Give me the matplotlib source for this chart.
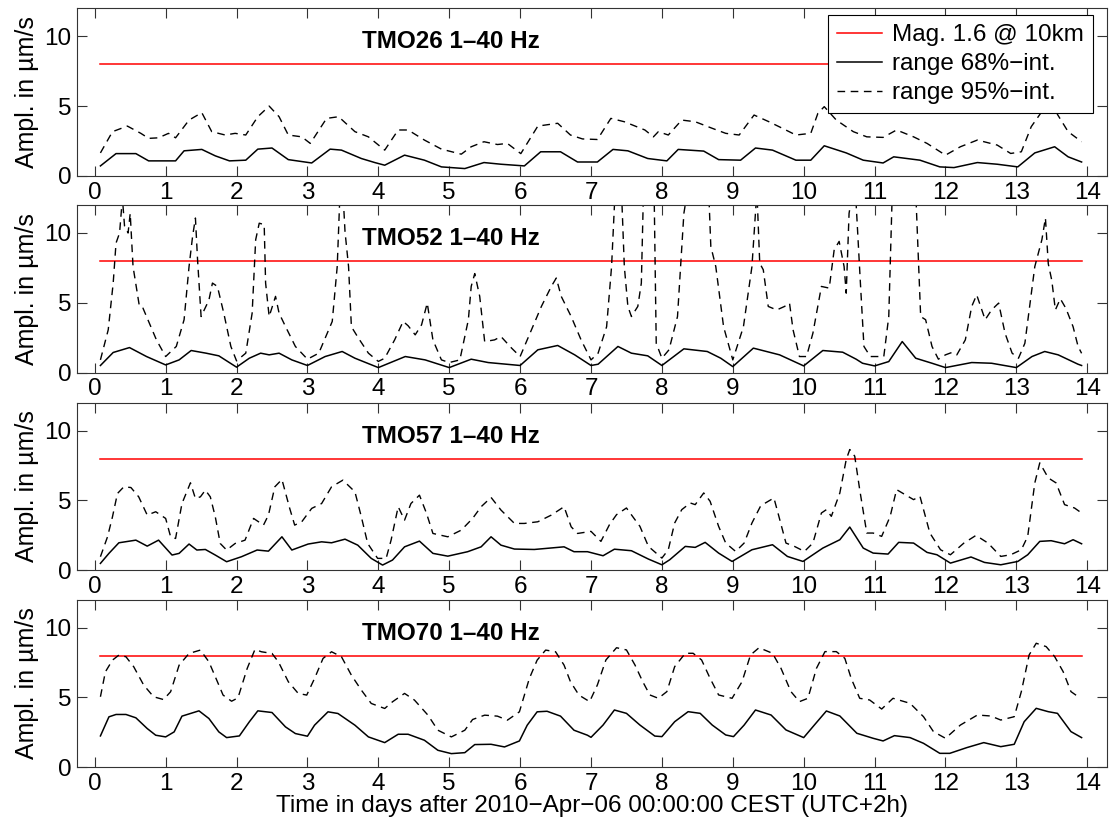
"""Amplitude ranges per station, 14 days after 2010-Apr-06.

Four stacked panels (TMO26, TMO52, TMO57, TMO70), each with the 68% and 95%
interval range and the reference level of a Mag. 1.6 event at 10 km.

    python plot.py
"""
import matplotlib

matplotlib.use("Agg")
import matplotlib.pyplot as plt  # noqa: E402
import numpy as np  # noqa: E402

FONT = ["Liberation Sans", "DejaVu Sans"]
FS = 17.5
plt.rcParams.update({"font.family": FONT, "font.size": FS,
                     "xtick.direction": "in", "ytick.direction": "in",
                     "xtick.major.size": 7, "ytick.major.size": 7,
                     "axes.linewidth": 0.8, "axes.edgecolor": "#333333"})

STATIONS = ["TMO26", "TMO52", "TMO57", "TMO70"]
BAND = "1\u201340 Hz"
MAG_LEVEL = 8.0
XLABEL = "Time in days after 2010\u2212Apr\u221206 00:00:00 CEST (UTC+2h)"
YLABEL = "Ampl. in \u00b5m/s"
LEGEND = ["Mag. 1.6 @ 10km", "range 68%\u2212int.", "range 95%\u2212int."]

# (day, amplitude)
tmo26_68 = [(0.08, 0.72), (0.3, 1.6), (0.58, 1.6), (0.76, 1.08), (0.95, 1.08), (1.14, 1.08),
            (1.26, 1.8), (1.51, 1.9), (1.7, 1.44), (1.9, 1.08), (2.13, 1.13), (2.3, 1.92),
            (2.5, 2.0), (2.73, 1.17), (3.06, 0.93), (3.32, 1.92), (3.48, 1.85), (3.76, 1.25),
            (3.95, 0.96), (4.09, 0.77), (4.37, 1.49), (4.65, 1.13), (4.89, 0.65), (5.22, 0.53),
            (5.49, 0.96), (5.73, 0.84), (6.06, 0.72), (6.29, 1.73), (6.57, 1.73), (6.81, 1.0),
            (7.09, 1.0), (7.31, 1.9), (7.52, 1.8), (7.8, 1.25), (8.07, 1.08), (8.23, 1.9),
            (8.59, 1.78), (8.8, 1.17), (9.11, 1.13), (9.32, 2.0), (9.56, 1.85), (9.89, 1.13),
            (10.1, 1.13), (10.29, 2.16), (10.6, 1.65), (10.84, 1.13), (11.12, 0.93), (11.27, 1.37),
            (11.64, 1.13), (11.92, 0.65), (12.12, 0.6), (12.45, 0.96), (12.73, 0.84), (13.02, 0.65),
            (13.26, 1.65), (13.54, 2.09), (13.73, 1.37), (13.92, 1.0)]
tmo26_95 = [(0.08, 1.65), (0.25, 3.17), (0.46, 3.57), (0.65, 3.05), (0.76, 2.69), (0.9, 2.73),
            (1.04, 3.05), (1.14, 2.73), (1.33, 4.0), (1.51, 4.53), (1.65, 3.17), (1.84, 2.93),
            (1.98, 3.05), (2.13, 2.93), (2.3, 4.24), (2.46, 5.0), (2.6, 4.24), (2.73, 2.93),
            (2.92, 2.8), (3.04, 2.33), (3.27, 4.12), (3.44, 4.24), (3.67, 3.17), (3.86, 2.8),
            (4.09, 1.85), (4.28, 3.29), (4.42, 3.29), (4.65, 2.57), (4.89, 1.92), (5.17, 1.56),
            (5.31, 2.09), (5.49, 2.45), (5.68, 2.25), (5.82, 2.33), (6.01, 1.6), (6.25, 3.57),
            (6.53, 3.77), (6.71, 2.93), (6.88, 2.65), (7.09, 2.61), (7.28, 4.12), (7.47, 3.88),
            (7.76, 3.29), (7.88, 2.8), (7.95, 3.17), (8.09, 2.93), (8.28, 4.0), (8.47, 3.88),
            (8.71, 3.41), (8.9, 3.05), (9.09, 2.93), (9.3, 4.36), (9.51, 3.88), (9.7, 3.41),
            (9.89, 2.93), (10.1, 3.05), (10.2, 4.48), (10.29, 4.96), (10.46, 4.0), (10.7, 3.17),
            (10.89, 2.8), (11.12, 2.76), (11.31, 3.29), (11.55, 2.8), (11.74, 2.33), (12.0, 1.49),
            (12.21, 2.09), (12.45, 2.57), (12.73, 2.21), (12.92, 1.61), (13.07, 1.73), (13.21, 3.53),
            (13.4, 4.9), (13.5, 5.6), (13.58, 4.4), (13.73, 3.17), (13.92, 2.45)]

tmo52_68 = [(0.08, 0.53), (0.26, 1.46), (0.49, 1.81), (0.73, 1.17), (1.0, 0.57), (1.19, 0.93),
            (1.36, 1.6), (1.57, 1.41), (1.75, 1.22), (2.0, 0.41), (2.18, 1.05), (2.34, 1.41),
            (2.46, 1.29), (2.6, 1.41), (2.78, 0.93), (3.0, 0.53), (3.25, 1.17), (3.49, 1.53),
            (3.67, 1.05), (4.0, 0.38), (4.38, 1.17), (4.66, 0.93), (5.0, 0.38), (5.31, 0.98),
            (5.55, 0.74), (6.0, 0.53), (6.25, 1.65), (6.53, 1.96), (6.77, 1.29), (7.0, 0.53),
            (7.1, 0.62), (7.38, 1.89), (7.57, 1.41), (7.8, 1.22), (8.0, 0.53), (8.31, 1.72),
            (8.64, 1.53), (8.83, 1.05), (9.0, 0.45), (9.29, 1.77), (9.66, 1.29), (10.0, 0.5),
            (10.27, 1.6), (10.55, 1.48), (10.74, 0.98), (10.83, 0.69), (11.0, 0.5), (11.2, 0.81),
            (11.39, 2.24), (11.58, 1.05), (11.81, 0.69), (12.0, 0.38), (12.37, 0.74), (12.65, 0.69),
            (13.0, 0.38), (13.22, 1.17), (13.4, 1.53), (13.59, 1.29), (13.87, 0.62), (13.92, 0.53)]
tmo52_95 = [(0.08, 0.93), (0.19, 3.08), (0.26, 6.42), (0.3, 9.28), (0.35, 10.0), (0.39, 12.5),
            (0.42, 10.5), (0.47, 10.0), (0.5, 11.4), (0.54, 7.6), (0.63, 4.75), (0.68, 4.63),
            (0.87, 2.36), (1.0, 1.17), (1.15, 1.89), (1.26, 3.8), (1.33, 7.6), (1.38, 9.76),
            (1.42, 11.07), (1.45, 8.1), (1.5, 4.03), (1.61, 5.2), (1.66, 6.42), (1.73, 6.18),
            (1.82, 4.27), (1.92, 1.89), (2.0, 0.86), (2.13, 1.41), (2.22, 4.27), (2.27, 9.52),
            (2.32, 10.7), (2.39, 10.6), (2.41, 6.42), (2.46, 4.03), (2.55, 5.47), (2.6, 4.27),
            (2.69, 3.32), (2.83, 1.89), (3.0, 0.98), (3.16, 1.41), (3.35, 3.68), (3.42, 7.6),
            (3.46, 13.0), (3.5, 13.0), (3.53, 10.1), (3.58, 7.6), (3.62, 3.3), (3.72, 2.48),
            (3.86, 1.41), (4.0, 0.82), (4.09, 1.05), (4.23, 2.36), (4.35, 3.68), (4.42, 3.37),
            (4.52, 2.72), (4.61, 3.44), (4.69, 4.99), (4.77, 2.36), (4.89, 0.93), (5.0, 0.74),
            (5.15, 0.93), (5.27, 3.8), (5.31, 6.18), (5.36, 7.1), (5.43, 5.47), (5.5, 2.24),
            (5.64, 2.36), (5.73, 2.6), (5.88, 1.77), (6.0, 1.17), (6.16, 3.08), (6.3, 4.75),
            (6.44, 6.18), (6.51, 6.78), (6.58, 5.47), (6.72, 4.03), (6.86, 2.36), (7.0, 0.93),
            (7.1, 1.41), (7.22, 3.3), (7.29, 7.6), (7.34, 13.0), (7.43, 13.0), (7.47, 7.6),
            (7.52, 4.75), (7.57, 4.03), (7.66, 4.75), (7.71, 6.42), (7.74, 13.0), (7.89, 13.0),
            (7.92, 2.12), (8.0, 1.05), (8.1, 1.65), (8.22, 4.03), (8.31, 11.4), (8.36, 13.0),
            (8.66, 13.0), (8.69, 9.04), (8.76, 7.6), (8.87, 3.3), (9.0, 0.93), (9.15, 3.3),
            (9.27, 7.6), (9.34, 13.0), (9.38, 7.84), (9.43, 7.37), (9.5, 4.75), (9.62, 4.5),
            (9.73, 4.75), (9.8, 4.99), (9.85, 3.08), (9.94, 1.17), (10.04, 1.17), (10.13, 2.84),
            (10.25, 6.18), (10.36, 6.06), (10.43, 8.8), (10.5, 9.4), (10.57, 7.6), (10.6, 5.7),
            (10.64, 11.4), (10.69, 13.0), (10.73, 13.0), (10.8, 6.42), (10.85, 1.89), (10.94, 1.17),
            (11.13, 1.17), (11.2, 4.03), (11.25, 13.0), (11.58, 13.0), (11.65, 4.03), (11.72, 3.8),
            (11.81, 1.89), (11.9, 0.98), (12.0, 1.29), (12.09, 1.46), (12.16, 1.29), (12.28, 2.36),
            (12.37, 4.75), (12.44, 5.58), (12.56, 3.8), (12.65, 4.5), (12.75, 4.99), (12.84, 2.84),
            (12.94, 1.41), (13.03, 1.05), (13.12, 2.12), (13.26, 7.6), (13.36, 9.52), (13.41, 11.07),
            (13.45, 7.8), (13.5, 6.6), (13.55, 4.5), (13.62, 5.3), (13.7, 4.6), (13.8, 3.3),
            (13.87, 1.9), (13.92, 1.4)]

tmo57_68 = [(0.08, 0.48), (0.2, 1.2), (0.34, 1.96), (0.58, 2.15), (0.74, 1.72), (0.9, 2.15),
            (1.09, 1.08), (1.19, 1.2), (1.33, 1.87), (1.44, 1.44), (1.56, 1.48), (1.7, 1.08),
            (1.86, 0.6), (2.07, 0.96), (2.29, 1.44), (2.45, 1.36), (2.64, 2.39), (2.78, 1.44),
            (3.01, 1.87), (3.2, 2.03), (3.34, 1.96), (3.53, 2.22), (3.71, 1.79), (3.9, 0.84),
            (4.06, 0.36), (4.2, 0.72), (4.37, 1.67), (4.58, 2.08), (4.77, 1.2), (4.98, 1.0),
            (5.26, 1.32), (5.45, 1.67), (5.59, 2.39), (5.73, 1.79), (5.92, 1.51), (6.2, 1.48),
            (6.62, 1.67), (6.76, 1.32), (6.95, 1.32), (7.17, 1.03), (7.33, 1.5), (7.57, 1.39),
            (7.81, 0.79), (8.0, 0.38), (8.11, 0.74), (8.33, 1.7), (8.47, 1.63), (8.61, 1.99),
            (8.8, 1.22), (8.99, 0.62), (9.27, 1.46), (9.56, 1.82), (9.77, 0.98), (9.99, 0.62),
            (10.27, 1.58), (10.51, 2.18), (10.65, 3.09), (10.84, 1.58), (10.98, 1.22), (11.19, 1.15),
            (11.34, 1.99), (11.55, 1.94), (11.74, 1.27), (11.88, 1.1), (12.07, 0.5), (12.36, 0.94),
            (12.55, 0.55), (12.78, 0.38), (13.02, 0.62), (13.16, 1.1), (13.33, 2.06), (13.49, 2.11),
            (13.68, 1.89), (13.8, 2.18), (13.92, 1.89)]
tmo57_95 = [(0.08, 0.96), (0.18, 2.39), (0.25, 3.83), (0.32, 5.5), (0.41, 5.98), (0.51, 5.93),
            (0.62, 5.26), (0.74, 3.95), (0.86, 4.19), (1.0, 3.71), (1.07, 2.39), (1.14, 2.27),
            (1.23, 4.78), (1.35, 6.27), (1.42, 5.14), (1.49, 5.26), (1.56, 5.74), (1.63, 5.26),
            (1.7, 3.83), (1.77, 1.91), (1.86, 1.44), (1.98, 1.91), (2.12, 2.15), (2.24, 3.71),
            (2.38, 3.23), (2.45, 3.95), (2.54, 5.98), (2.64, 6.51), (2.75, 4.43), (2.82, 3.23),
            (2.92, 3.47), (3.06, 4.43), (3.2, 4.78), (3.34, 5.98), (3.5, 6.46), (3.67, 5.62),
            (3.76, 3.83), (3.85, 1.91), (3.99, 0.84), (4.11, 0.84), (4.18, 2.15), (4.28, 4.55),
            (4.37, 3.59), (4.46, 4.78), (4.58, 5.38), (4.68, 4.07), (4.77, 2.63), (4.98, 2.39),
            (5.17, 2.87), (5.33, 3.71), (5.45, 4.55), (5.59, 5.22), (5.73, 4.31), (5.92, 3.35),
            (6.06, 3.35), (6.25, 3.47), (6.44, 3.95), (6.62, 4.55), (6.72, 3.11), (6.81, 2.63),
            (7.0, 2.78), (7.14, 2.06), (7.26, 3.26), (7.36, 3.98), (7.5, 4.46), (7.62, 3.62),
            (7.69, 3.14), (7.81, 1.7), (8.0, 0.86), (8.09, 1.46), (8.18, 3.38), (8.28, 4.34),
            (8.4, 4.82), (8.47, 4.7), (8.59, 5.54), (8.68, 4.94), (8.8, 3.14), (8.9, 1.94),
            (9.04, 1.34), (9.16, 1.94), (9.27, 3.38), (9.39, 4.58), (9.46, 4.82), (9.58, 5.18),
            (9.65, 3.86), (9.75, 1.94), (9.87, 1.7), (10.01, 1.34), (10.13, 1.94), (10.25, 4.1),
            (10.32, 4.34), (10.39, 3.86), (10.51, 5.54), (10.6, 7.94), (10.65, 8.66), (10.72, 8.18),
            (10.79, 5.78), (10.89, 2.66), (10.98, 2.66), (11.1, 2.42), (11.22, 3.86), (11.31, 5.78),
            (11.43, 5.42), (11.55, 5.06), (11.64, 5.3), (11.78, 2.66), (11.93, 1.46), (12.07, 1.1),
            (12.26, 1.94), (12.43, 2.49), (12.6, 1.94), (12.78, 0.98), (12.92, 1.1), (13.07, 1.46),
            (13.16, 2.42), (13.26, 6.26), (13.33, 7.7), (13.45, 6.62), (13.56, 6.26), (13.68, 4.7),
            (13.82, 4.46), (13.92, 4.1)]

tmo70_68 = [(0.08, 2.23), (0.2, 3.6), (0.3, 3.77), (0.44, 3.77), (0.58, 3.53), (0.74, 2.76),
            (0.86, 2.28), (1.0, 2.16), (1.12, 2.52), (1.23, 3.65), (1.35, 3.84), (1.47, 4.03),
            (1.61, 3.48), (1.75, 2.52), (1.86, 2.11), (2.04, 2.23), (2.18, 3.24), (2.3, 4.03),
            (2.5, 3.91), (2.69, 2.88), (2.83, 2.4), (3.0, 2.21), (3.1, 3.0), (3.29, 3.96),
            (3.43, 3.84), (3.67, 3.0), (3.86, 2.16), (4.09, 1.75), (4.28, 2.35), (4.42, 2.35),
            (4.65, 1.92), (4.84, 1.2), (5.03, 0.96), (5.22, 1.03), (5.36, 1.61), (5.59, 1.63),
            (5.78, 1.44), (5.99, 1.87), (6.1, 3.0), (6.24, 3.96), (6.38, 4.0), (6.57, 3.65),
            (6.76, 2.64), (6.95, 2.28), (7.0, 2.13), (7.17, 3.01), (7.33, 4.09), (7.5, 3.85),
            (7.69, 3.01), (7.9, 2.22), (8.0, 2.18), (8.18, 3.25), (8.37, 3.97), (8.54, 3.85),
            (8.71, 3.01), (8.9, 2.3), (9.01, 2.18), (9.16, 3.01), (9.32, 4.09), (9.54, 3.73),
            (9.75, 2.66), (10.0, 2.11), (10.15, 3.01), (10.32, 4.02), (10.51, 3.66), (10.75, 2.42),
            (10.98, 2.06), (11.12, 1.87), (11.28, 2.25), (11.5, 2.11), (11.69, 1.7), (11.92, 0.98),
            (12.06, 0.98), (12.3, 1.39), (12.54, 1.75), (12.78, 1.46), (12.97, 1.63), (13.11, 3.25),
            (13.28, 4.21), (13.45, 3.97), (13.58, 3.85), (13.77, 2.54), (13.92, 2.11)]
tmo70_95 = [(0.08, 5.04), (0.15, 6.83), (0.25, 7.67), (0.34, 8.03), (0.44, 7.91), (0.55, 7.19),
            (0.69, 5.88), (0.83, 5.04), (0.97, 4.84), (1.07, 5.4), (1.19, 7.31), (1.33, 8.15),
            (1.49, 8.39), (1.61, 7.55), (1.72, 6.24), (1.81, 5.16), (1.93, 4.72), (2.02, 4.96),
            (2.15, 7.07), (2.26, 8.44), (2.35, 8.27), (2.5, 8.15), (2.59, 7.55), (2.73, 6.12),
            (2.87, 5.28), (2.99, 5.16), (3.1, 6.35), (3.22, 7.79), (3.34, 8.27), (3.48, 7.91),
            (3.62, 6.59), (3.76, 5.52), (3.9, 4.56), (4.09, 4.2), (4.2, 4.68), (4.37, 5.28),
            (4.51, 4.8), (4.7, 3.72), (4.84, 2.64), (5.03, 2.16), (5.22, 2.64), (5.33, 3.41),
            (5.5, 3.72), (5.68, 3.65), (5.82, 3.36), (5.99, 3.96), (6.13, 6.35), (6.24, 7.67),
            (6.36, 8.39), (6.5, 8.27), (6.62, 7.31), (6.71, 6.12), (6.83, 5.16), (6.98, 4.69),
            (7.09, 5.89), (7.21, 7.68), (7.36, 8.56), (7.5, 8.4), (7.62, 7.32), (7.73, 6.12),
            (7.83, 5.17), (7.95, 4.93), (8.07, 5.41), (8.18, 7.2), (8.33, 8.16), (8.44, 8.16),
            (8.56, 7.68), (8.68, 6.36), (8.8, 5.17), (8.99, 4.93), (9.13, 6.12), (9.25, 8.04),
            (9.37, 8.56), (9.56, 8.16), (9.68, 7.08), (9.82, 5.41), (9.94, 4.69), (10.06, 4.93),
            (10.18, 7.08), (10.3, 8.28), (10.46, 8.28), (10.58, 7.8), (10.67, 6.36), (10.79, 4.93),
            (10.93, 4.81), (11.1, 4.16), (11.26, 4.93), (11.5, 4.57), (11.69, 3.61), (11.83, 2.54),
            (12.0, 2.06), (12.21, 3.01), (12.45, 3.73), (12.64, 3.66), (12.78, 3.37), (12.97, 3.61),
            (13.07, 5.41), (13.18, 8.04), (13.28, 8.88), (13.42, 8.64), (13.54, 7.92), (13.66, 6.84),
            (13.77, 5.41), (13.87, 5.05)]

SERIES_68 = [tmo26_68, tmo52_68, tmo57_68, tmo70_68]
SERIES_95 = [tmo26_95, tmo52_95, tmo57_95, tmo70_95]

# panel boxes in figure fraction (left, bottom, width, height)
BOXES = [(0.0694, 0.7867, 0.928, 0.2033),
         (0.0694, 0.5480, 0.928, 0.2035),
         (0.0694, 0.3090, 0.928, 0.2025),
         (0.0694, 0.0703, 0.928, 0.2027)]


def draw_panel(ax, name, s68, s95, with_legend):
    t68, v68 = np.array(s68).T
    t95, v95 = np.array(s95).T
    h_mag, = ax.plot([t68[0], t68[-1]], [MAG_LEVEL, MAG_LEVEL], color="red", lw=1.1)
    h68, = ax.plot(t68, v68, color="black", lw=1.1)
    h95, = ax.plot(t95, v95, color="black", lw=1.0, dashes=(5.5, 4))
    ax.set_xlim(-0.25, 14.28)
    ax.set_ylim(0, 12)
    ax.set_xticks(range(15))
    ax.set_yticks([0, 5, 10])
    ax.tick_params(top=True, right=True, labelsize=FS, pad=4, width=0.8, color="#333333")
    ax.set_ylabel(YLABEL, fontsize=18, labelpad=4)
    ax.text(5.03, 9.6, f"{name} {BAND}", ha="center", va="center",
            fontsize=FS, fontweight="bold")
    if with_legend:
        leg = ax.legend([h_mag, h68, h95], LEGEND, loc="upper right",
                        bbox_to_anchor=(0.9864, 0.959), borderaxespad=0, fontsize=FS,
                        fancybox=False, framealpha=1, edgecolor="black",
                        borderpad=0.38, labelspacing=0.28,
                        handlelength=1.85, handletextpad=0.4)
        leg.get_frame().set_linewidth(0.8)
        leg.set_zorder(5)


def main():
    fig = plt.figure(figsize=(11.1, 8.25), dpi=100)
    for i, (name, s68, s95) in enumerate(zip(STATIONS, SERIES_68, SERIES_95)):
        ax = fig.add_axes(BOXES[i])
        draw_panel(ax, name, s68, s95, with_legend=(i == 0))
        if i == len(STATIONS) - 1:
            ax.set_xlabel(XLABEL, fontsize=FS, labelpad=0)
    fig.savefig("out.png", dpi=100)
    plt.close(fig)


if __name__ == "__main__":
    main()
